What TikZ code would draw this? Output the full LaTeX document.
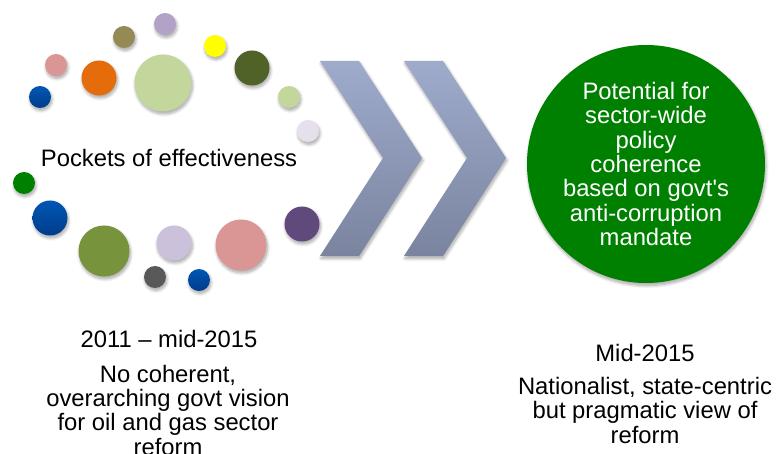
\documentclass[tikz,border=0pt]{standalone}
\usepackage{fontspec}
\setmainfont{Liberation Sans}
\usetikzlibrary{shadows,shadows.blur}

\definecolor{bblue}{HTML}{0057B4}
\definecolor{bbluedark}{HTML}{003C8A}
\definecolor{bpink}{HTML}{D99694}
\definecolor{borange}{HTML}{E46C0A}
\definecolor{bkhaki}{HTML}{948A54}
\definecolor{blilac}{HTML}{B3A2C7}
\definecolor{blime}{HTML}{C3D69B}
\definecolor{byellow}{HTML}{FFFF00}
\definecolor{bforest}{HTML}{4F6228}
\definecolor{bmist}{HTML}{E6E0EC}
\definecolor{bgreen}{HTML}{008000}
\definecolor{bolive}{HTML}{77933C}
\definecolor{blavender}{HTML}{CCC1DA}
\definecolor{bgrey}{HTML}{595959}
\definecolor{bplum}{HTML}{604A7B}
\definecolor{chevtop}{HTML}{9EABCB}
\definecolor{chevbot}{HTML}{7A849F}

\tikzset{
  softshadow/.style={blur shadow={shadow xshift=1pt, shadow yshift=-2.5pt,
      shadow blur radius=3pt, shadow blur steps=8, shadow opacity=35}},
  bubble/.style={circle, inner sep=0pt, minimum size=#1, softshadow},
  bluebubble/.style={bubble=#1, top color=bblue, bottom color=bbluedark},
  txt/.style={font=\fontsize{23.8}{24.3}\selectfont, align=center, inner sep=0pt},
}

\begin{document}
\begin{tikzpicture}[x=1pt,y=-1pt]
\useasboundingbox (0,0) rectangle (777,454);

% upper arc of pockets
\node [bluebubble=22pt] (p1) at (40,97) {};
\node [bubble=22pt, fill=bpink] (p2) at (56,65) {};
\node [bubble=35pt, fill=borange] (p3) at (99,78) {};
\node [bubble=22pt, fill=bkhaki] (p4) at (124,37) {};
\node [bubble=22pt, fill=blilac] (p5) at (165,24) {};
\node [bubble=57pt, fill=blime] (p6) at (163,83) {};
\node [bubble=22pt, fill=byellow] (p7) at (215,46) {};
\node [bubble=35pt, fill=bforest] (p8) at (252,68) {};
\node [bubble=22pt, fill=blime] (p9) at (289,97) {};
\node [bubble=22pt, fill=bmist] (p10) at (308,131) {};

% lower arc of pockets
\node [bubble=22pt, fill=bgreen] (p11) at (24,183) {};
\node [bluebubble=35pt] (p12) at (50,218) {};
\node [bubble=51pt, fill=bolive] (p13) at (104,251) {};
\node [bubble=35pt, fill=blavender] (p14) at (174,243) {};
\node [bubble=22pt, fill=bgrey] (p15) at (155,277) {};
\node [bluebubble=22pt] (p16) at (199,280) {};
\node [bubble=51pt, fill=bpink] (p17) at (241,245) {};
\node [bubble=35pt, fill=bplum] (p18) at (302,224) {};

\node [txt, anchor=base] (pockets) at (169,167) {Pockets of effectiveness};

% chevrons
\foreach \dx in {0,84}
  \shade [top color=chevtop, bottom color=chevbot, softshadow]
    (320+\dx,61) -- (359+\dx,61) -- (422+\dx,158) -- (359+\dx,256)
    -- (320+\dx,256) -- (383+\dx,158) -- cycle;

\node [circle, fill=bgreen, minimum size=238pt, inner sep=0pt, softshadow,
       txt, text=white] (goal) at (646,164)
  {Potential for\\sector-wide\\policy\\coherence\\based on govt\textquotesingle s\\anti-corruption\\mandate};

% base anchor sits on the last line
\node [txt, anchor=base] (date1) at (169,348) {2011 – mid-2015};
\node [txt, anchor=base] (view1) at (168,455)
  {No coherent,\\overarching govt vision\\for oil and gas sector\\reform};

\node [txt, anchor=base] (date2) at (645,362) {Mid-2015};
\node [txt, anchor=base] (view2) at (645,443)
  {Nationalist, state-centric\\but pragmatic view of\\reform};

\end{tikzpicture}
\end{document}
